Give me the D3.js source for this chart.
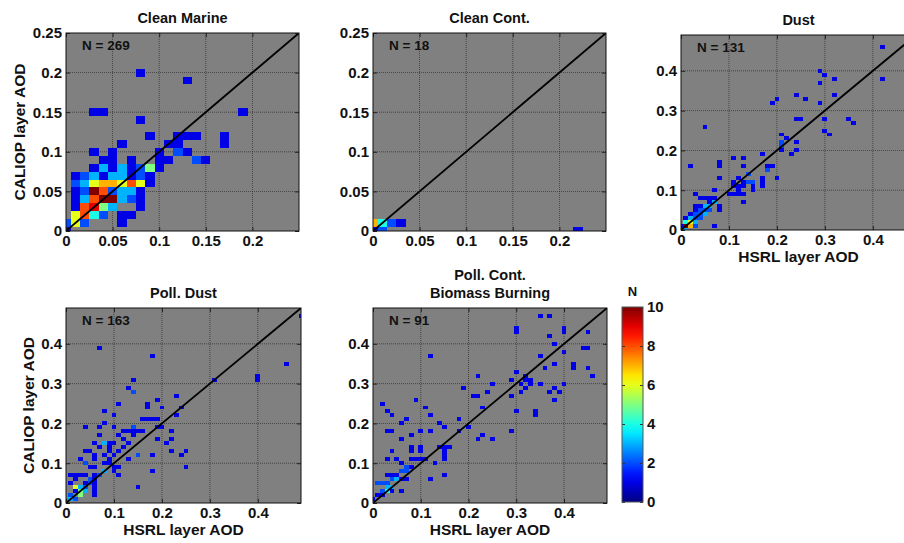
<!DOCTYPE html>
<html><head><meta charset="utf-8">
<script src="https://cdn.jsdelivr.net/npm/d3@7"></script>
<style>
body{margin:0;background:#fff;}
text{font-family:"Liberation Sans",Arial,Helvetica,sans-serif;font-weight:bold;fill:#111;}
</style>
</head><body><svg id="c" width="904" height="543"></svg>
<script>
// ---- DATA: 2-D histogram cells [HSRL AOD x100, CALIOP AOD x100, count] ----
const cellsCleanMarine = [
 [0,0,1],
 [0,1,2],[1,1,6],[2,1,2],[6,1,1],
 [1,2,6],[2,2,8],[3,2,4],[4,2,2],[6,2,1],[7,2,1],
 [1,3,1],[2,3,8],[3,3,9],[4,3,5],[5,3,3],[8,3,1],
 [1,4,1],[2,4,3],[3,4,8],[4,4,10],[5,4,10],[6,4,3],[7,4,2],[8,4,1],
 [1,5,1],[2,5,2],[3,5,10],[4,5,8],[5,5,2],[6,5,3],[7,5,3],[8,5,1],
 [1,6,2],[2,6,3],[3,6,6],[4,6,7],[5,6,7],[6,6,6],[7,6,8],[8,6,6],[9,6,1],
 [1,7,1],[2,7,2],[3,7,3],[4,7,1],[5,7,3],[6,7,3],[7,7,1],[8,7,2],[9,7,1],
 [3,8,1],[4,8,3],[5,8,1],[6,8,3],[7,8,1],[8,8,2],[9,8,5],[10,8,1],
 [4,9,1],[5,9,1],[7,9,1],[10,9,1],[11,9,1],[14,9,2],[15,9,1],
 [3,10,1],[5,10,1],[10,10,1],[12,10,2],[13,10,1],
 [6,11,1],[11,11,1],[12,11,1],[17,11,1],
 [9,12,1],[12,12,1],[13,12,1],[14,12,1],[17,12,1],
 [8,14,1],
 [3,15,1],[4,15,1],[19,15,1],
 [13,19,1],
 [8,20,1]
];
const cellsCleanCont = [
 [0,0,1],[0,1,7],[1,1,4],[1,0,2],[2,1,2],[3,1,1],[22,0,1]
];
const cellsDust = [
 [42,46,1],[42,38,1],[29,40,1],[30,39,1],[29,37,1],[32,38,1],[32,34,1],[24,34,1],[26,33,1],
 [20,33,1],[19,32,1],[29,32,1],[24,28,1],[25,28,1],[30,28,1],[35,28,1],[36,27,1],[30,25,1],
 [31,24,1],[5,26,1],[21,24,1],[22,23,1],[21,22,2],[21,21,2],[21,20,1],[24,22,1],[24,20,1],
 [23,19,1],[17,19,1],[2,16,1],[11,18,1],[13,18,1],[8,17,1],[8,16,1],[13,16,1],[18,16,1],
 [19,16,1],[18,15,2],[14,14,2],[8,13,1],[20,13,1],[17,13,1],[17,12,1],[17,11,1],
 [12,13,1],[13,12,1],[14,12,2],[15,12,2],[11,12,1],[11,11,1],[12,11,1],[13,11,1],[15,11,1],
 [12,10,1],[15,10,1],[11,9,1],[12,9,1],[13,9,1],[10,9,1],
 [13,7,1],[7,1,1],
 [3,9,1],[4,8,1],[5,8,1],[6,8,1],[7,8,1],[6,7,1],[7,7,3],[7,10,1],[8,6,1],[8,5,1],
 [3,6,1],[4,6,1],[5,6,3],[6,6,3],[3,5,1],[4,5,2],[5,5,2],[6,5,2],
 [2,4,1],[3,4,2],[4,4,2],[5,4,3],[1,3,1],[2,3,3],[3,3,2],[4,3,2],
 [1,2,4],[2,2,6],[3,2,3],[1,1,10],[2,1,7],[3,1,2],[1,0,3],[0,1,1]
];
const cellsPollDust = [
 [49,47,1],[46,35,1],[40,32,1],[40,31,1],[31,31,1],[7,39,1],[18,37,1],[14,31,1],[13,29,1],
 [14,28,2],[23,27,1],[19,26,1],[11,25,1],[17,25,1],[17,24,1],[20,24,1],[24,24,1],[8,23,1],
 [23,22,1],[10,22,1],[16,21,1],[17,21,1],[18,21,1],[19,21,1],
 [4,19,1],[8,20,1],[7,19,1],[10,19,1],[14,19,2],[19,19,1],[20,19,1],
 [12,18,1],[13,18,1],[14,18,1],[15,18,1],[16,18,1],[22,18,1],
 [7,17,1],[11,17,1],[14,17,1],
 [6,15,1],[8,15,3],[9,15,1],[12,16,1],[19,16,1],[22,16,1],[21,15,1],[10,15,1],[13,15,1],
 [4,13,1],[5,13,1],[7,14,1],[9,14,1],[9,13,1],[12,14,1],[11,13,1],
 [6,12,1],[8,12,1],[10,12,1],[15,12,2],[18,12,1],[22,13,1],[24,12,1],[25,13,1],[13,11,1],
 [3,11,1],[4,10,2],[6,11,1],[9,11,1],[8,10,1],[9,10,1],
 [5,9,1],[6,9,1],[10,9,1],[11,9,1],[25,9,1],[18,8,1],[10,8,1],[11,7,1],[8,8,3],[7,7,2],[15,4,1],
 [1,7,1],[2,7,1],[3,7,1],[4,7,1],[6,7,1],
 [2,6,1],[5,6,2],[6,6,1],
 [1,5,1],[4,5,1],[5,5,2],[6,5,1],
 [2,4,6],[3,4,3],[4,4,2],[6,4,1],
 [2,3,1],[3,3,5],[4,3,3],[6,3,1],
 [1,2,2],[3,2,5],[6,2,1],
 [1,1,3],[2,1,2],[0,0,1]
];
const cellsPollCont = [
 [35,47,1],[37,47,1],[30,44,1],[30,43,1],[40,44,1],[40,43,1],[45,43,1],[37,42,1],[38,40,1],
 [44,39,1],[45,39,1],[40,38,1],[35,37,1],[12,37,1],[42,35,1],[42,34,1],[38,35,1],[36,34,1],
 [45,34,1],[46,32,1],[22,32,1],[30,33,1],[32,32,1],[32,31,1],[33,31,1],[33,30,1],[35,30,1],
 [40,30,1],[31,30,1],[29,31,1],[25,30,1],[24,28,1],[19,29,1],[21,27,1],[22,27,1],[29,27,1],
 [31,28,1],[32,29,1],[37,28,1],[38,29,1],[39,28,1],[9,26,1],[38,26,1],[34,23,1],[34,22,1],
 [30,23,1],[29,18,1],
 [2,25,1],[3,23,1],[4,22,1],[7,21,1],[6,20,1],[3,18,1],[4,18,1],[8,17,1],[10,18,1],[12,18,1],
 [11,24,1],[12,22,1],[6,16,1],[8,14,1],[8,13,1],[10,14,1],[10,13,1],[4,13,1],[14,20,1],
 [15,19,1],[18,18,1],[18,21,1],[20,19,1],[22,16,1],[23,17,1],[25,16,1],[23,24,1],[14,14,1],
 [15,14,1],[16,14,1],[15,13,1],[15,12,1],[15,11,1],[13,10,1],[9,11,1],[8,11,1],[10,11,1],
 [11,11,1],[3,11,1],[5,11,1],[6,10,1],[12,6,1],[15,7,1],[6,3,1],
 [7,9,2],[8,9,1],[6,8,2],[7,8,2],[3,7,1],[4,7,1],[5,7,1],[4,6,2],[5,6,3],[6,6,1],[7,6,1],
 [1,5,2],[2,5,2],[3,5,2],[3,4,3],[4,4,3],[3,3,4],[2,3,2],[4,3,1],[1,2,1],[2,2,1],[0,1,1]
];
const panelTitles = [["Clean Marine"],["Clean Cont."],["Dust"],["Poll. Dust"],["Poll. Cont.","Biomass Burning"]];
const panelN = [269, 18, 131, 163, 91];
const axisMax = [0.25, 0.25, 0.49, 0.49, 0.49];
const xTicksSmall = [0, 0.05, 0.1, 0.15, 0.2];
const yTicksSmall = [0, 0.05, 0.1, 0.15, 0.2, 0.25];
const ticksLarge = [0, 0.1, 0.2, 0.3, 0.4];
const colorbarTicks = [0, 2, 4, 6, 8, 10];
const colorMax = 10;
const xAxisLabel = "HSRL layer AOD";
const yAxisLabel = "CALIOP layer AOD";
const colorbarLabel = "N";

// ---- LAYOUT ----
const layout = [
 {left:66,  top:33,  w:233, h:198, showX:false, showY:true,  yLabX:19},
 {left:373, top:33,  w:233, h:198, showX:false, showY:false},
 {left:681, top:35,  w:235, h:195, showX:true,  showY:false},
 {left:66,  top:308, w:235, h:195, showX:true,  showY:true,  yLabX:28},
 {left:373, top:308, w:234, h:195, showX:true,  showY:false}
];
const allCells = [cellsCleanMarine, cellsCleanCont, cellsDust, cellsPollDust, cellsPollCont];
const xTickSets = [xTicksSmall, xTicksSmall, ticksLarge, ticksLarge, ticksLarge];
const yTickSets = [yTicksSmall, yTicksSmall, ticksLarge, ticksLarge, ticksLarge];

function jet(t){
  const c = v => Math.max(0, Math.min(1, v));
  return d3.rgb(255*c(1.5-Math.abs(4*t-3)), 255*c(1.5-Math.abs(4*t-2)), 255*c(1.5-Math.abs(4*t-1))).toString();
}
const fmt = d => d === 0 ? "0" : String(+d.toFixed(2));

const svg = d3.select("#c");
const defs = svg.append("defs");
const FS = 15;

layout.forEach((p, i) => {
  const max = axisMax[i];
  const x = d3.scaleLinear().domain([0, max]).range([p.left, p.left + p.w]);
  const y = d3.scaleLinear().domain([0, max]).range([p.top + p.h, p.top]);
  const cid = "clip" + i;
  defs.append("clipPath").attr("id", cid).append("rect")
    .attr("x", p.left).attr("y", p.top).attr("width", p.w).attr("height", p.h);
  const g = svg.append("g");
  g.append("rect").attr("x", p.left).attr("y", p.top).attr("width", p.w).attr("height", p.h).attr("fill", "#808080");

  const inner = g.append("g").attr("clip-path", `url(#${cid})`);
  inner.selectAll(".gx").data(xTickSets[i].filter(d => d > 0)).join("line")
    .attr("x1", d => x(d)).attr("x2", d => x(d)).attr("y1", p.top).attr("y2", p.top + p.h)
    .attr("stroke", "#222").attr("stroke-width", 0.8).attr("stroke-dasharray", "1 1").attr("opacity", 0.8);
  inner.selectAll(".gy").data(yTickSets[i].filter(d => d > 0 && d < max)).join("line")
    .attr("y1", d => y(d)).attr("y2", d => y(d)).attr("x1", p.left).attr("x2", p.left + p.w)
    .attr("stroke", "#222").attr("stroke-width", 0.8).attr("stroke-dasharray", "1 1").attr("opacity", 0.8);
  const b = 0.005;
  inner.append("g").attr("shape-rendering", "crispEdges").selectAll("rect").data(allCells[i]).join("rect")
    .attr("x", d => x(d[0]/100 - b))
    .attr("width", d => x(d[0]/100 + b) - x(d[0]/100 - b))
    .attr("y", d => y(d[1]/100 + b))
    .attr("height", d => y(d[1]/100 - b) - y(d[1]/100 + b))
    .attr("fill", d => jet(d[2] / colorMax));
  inner.append("line").attr("x1", x(0)).attr("y1", y(0)).attr("x2", x(max)).attr("y2", y(max))
    .attr("stroke", "#000").attr("stroke-width", 1.8);

  const ax = g.append("g").attr("transform", `translate(0,${p.top + p.h})`)
    .call(d3.axisBottom(x).tickValues(xTickSets[i]).tickFormat(fmt).tickSizeInner(-4).tickSizeOuter(0).tickPadding(4));
  const ay = g.append("g").attr("transform", `translate(${p.left},0)`)
    .call(d3.axisLeft(y).tickValues(yTickSets[i]).tickFormat(fmt).tickSizeInner(-4).tickSizeOuter(0).tickPadding(4));
  const at = g.append("g").attr("transform", `translate(0,${p.top})`)
    .call(d3.axisTop(x).tickValues(xTickSets[i]).tickFormat("").tickSizeInner(-4).tickSizeOuter(0));
  const ar = g.append("g").attr("transform", `translate(${p.left + p.w},0)`)
    .call(d3.axisRight(y).tickValues(yTickSets[i]).tickFormat("").tickSizeInner(-4).tickSizeOuter(0));
  [ax, ay, at, ar].forEach(a => {
    a.select(".domain").remove();
    a.selectAll("line").attr("stroke", "#222");
    a.selectAll("text").attr("font-size", FS).attr("font-family", "Liberation Sans, Arial, sans-serif")
      .attr("font-weight", "bold").attr("fill", "#111");
  });
  g.append("rect").attr("x", p.left).attr("y", p.top).attr("width", p.w).attr("height", p.h)
    .attr("fill", "none").attr("stroke", "#111").attr("stroke-width", 1);

  const tl = panelTitles[i];
  const cx = p.left + p.w / 2;
  tl.forEach((t, k) => {
    svg.append("text").attr("x", cx).attr("y", p.top - 10 - (tl.length - 1 - k) * 18)
      .attr("text-anchor", "middle").attr("font-size", 14.5).text(t);
  });
  svg.append("text").attr("x", p.left + 16).attr("y", p.top + 17).attr("font-size", 13.5).text("N = " + panelN[i]);
  if (p.showX) {
    svg.append("text").attr("x", cx).attr("y", p.top + p.h + 32).attr("text-anchor", "middle")
      .attr("font-size", 15.5).text(xAxisLabel);
  }
  if (p.showY) {
    svg.append("text").attr("transform", `translate(${p.yLabX + 6},${p.top + p.h/2}) rotate(-90)`)
      .attr("text-anchor", "middle").attr("font-size", 15.5).text(yAxisLabel);
  }
});

// ---- COLORBAR ----
const cb = {left:622, top:307, w:21, h:195};
const grad = defs.append("linearGradient").attr("id", "jetg").attr("x1", 0).attr("y1", 1).attr("x2", 0).attr("y2", 0);
d3.range(0, 1.0001, 0.05).forEach(t => grad.append("stop").attr("offset", t).attr("stop-color", jet(t)));
svg.append("rect").attr("x", cb.left).attr("y", cb.top).attr("width", cb.w).attr("height", cb.h).attr("fill", "url(#jetg)");
const cs = d3.scaleLinear().domain([0, colorMax]).range([cb.top + cb.h, cb.top]);
const cax = svg.append("g").attr("transform", `translate(${cb.left + cb.w},0)`)
  .call(d3.axisRight(cs).tickValues(colorbarTicks).tickFormat(d3.format("d")).tickSizeInner(-3).tickSizeOuter(0).tickPadding(4));
cax.select(".domain").remove();
cax.selectAll("line").attr("stroke", "#333");
cax.selectAll("text").attr("font-size", FS).attr("font-family", "Liberation Sans, Arial, sans-serif").attr("font-weight", "bold").attr("fill", "#111");
const cal = svg.append("g").attr("transform", `translate(${cb.left},0)`)
  .call(d3.axisLeft(cs).tickValues(colorbarTicks).tickFormat("").tickSizeInner(-3).tickSizeOuter(0));
cal.select(".domain").remove();
cal.selectAll("line").attr("stroke", "#333");
svg.append("rect").attr("x", cb.left).attr("y", cb.top).attr("width", cb.w).attr("height", cb.h)
  .attr("fill", "none").attr("stroke", "#555").attr("stroke-width", 1);
svg.append("text").attr("x", cb.left + cb.w/2).attr("y", cb.top - 11).attr("text-anchor", "middle")
  .attr("font-size", 13).text(colorbarLabel);
</script>
</body></html>
